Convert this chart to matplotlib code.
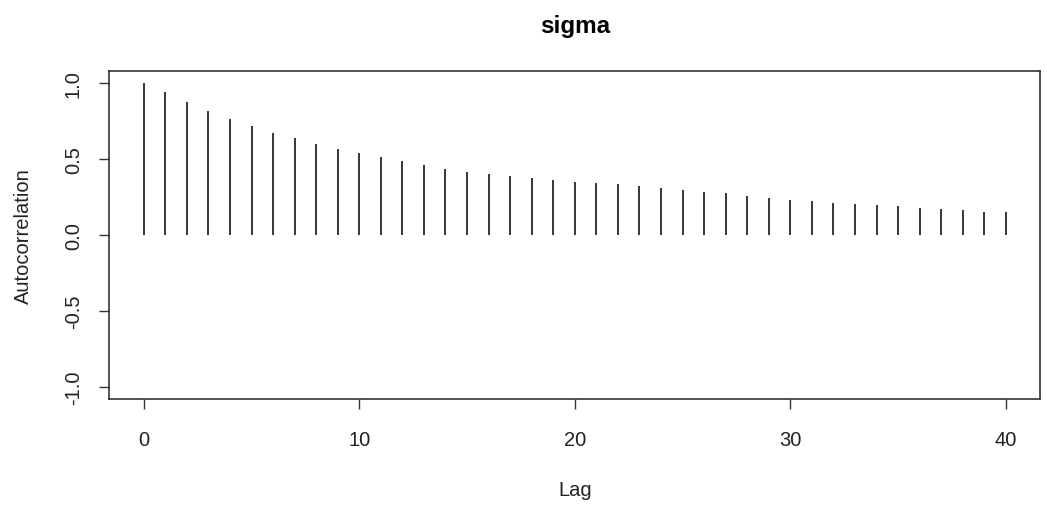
import matplotlib
matplotlib.use("Agg")
import matplotlib.pyplot as plt
import numpy as np

plt.rcParams['font.family'] = ['Liberation Sans', 'DejaVu Sans']

title = "sigma"
lags = list(range(0, 41))
acf = [1.000, 0.937, 0.876, 0.817, 0.764, 0.714, 0.672, 0.637, 0.595, 0.563,
       0.536, 0.510, 0.486, 0.459, 0.433, 0.416, 0.400, 0.385, 0.374, 0.359,
       0.348, 0.339, 0.332, 0.324, 0.306, 0.297, 0.282, 0.273, 0.253, 0.245,
       0.229, 0.220, 0.212, 0.203, 0.194, 0.188, 0.179, 0.170, 0.161, 0.153,
       0.153]
xticks = [0, 10, 20, 30, 40]
yticks = [-1.0, -0.5, 0.0, 0.5, 1.0]

fig = plt.figure(figsize=(10.47, 5.06), dpi=100)
ax = fig.add_axes([0.1044, 0.2095, 0.8892, 0.6488])

ax.vlines(lags, 0, acf, colors='black', linewidth=1.1)

ax.set_xlim(-1.6, 41.6)
ax.set_ylim(-1.08, 1.08)
ax.set_xticks(xticks)
ax.set_xticklabels([str(t) for t in xticks])
ax.set_yticks(yticks)
ax.set_yticklabels([f"{t:.1f}" for t in yticks], rotation=90, va='center')

for s in ax.spines.values():
    s.set_color('#333333')
    s.set_linewidth(1.2)

ax.tick_params(axis='both', direction='out', length=7.5, width=1.0,
               colors='#333333', labelcolor='#222222', labelsize=14.5)
ax.tick_params(axis='x', pad=14.5)
ax.tick_params(axis='y', pad=11.5)

ax.set_xlabel("Lag", fontsize=14.5, color='#222222', labelpad=23)
ax.set_ylabel("Autocorrelation", fontsize=14.5, color='#222222', labelpad=22)
ax.set_title(title, fontsize=17.5, fontweight='bold', pad=28)

fig.savefig("out.png", dpi=100)
